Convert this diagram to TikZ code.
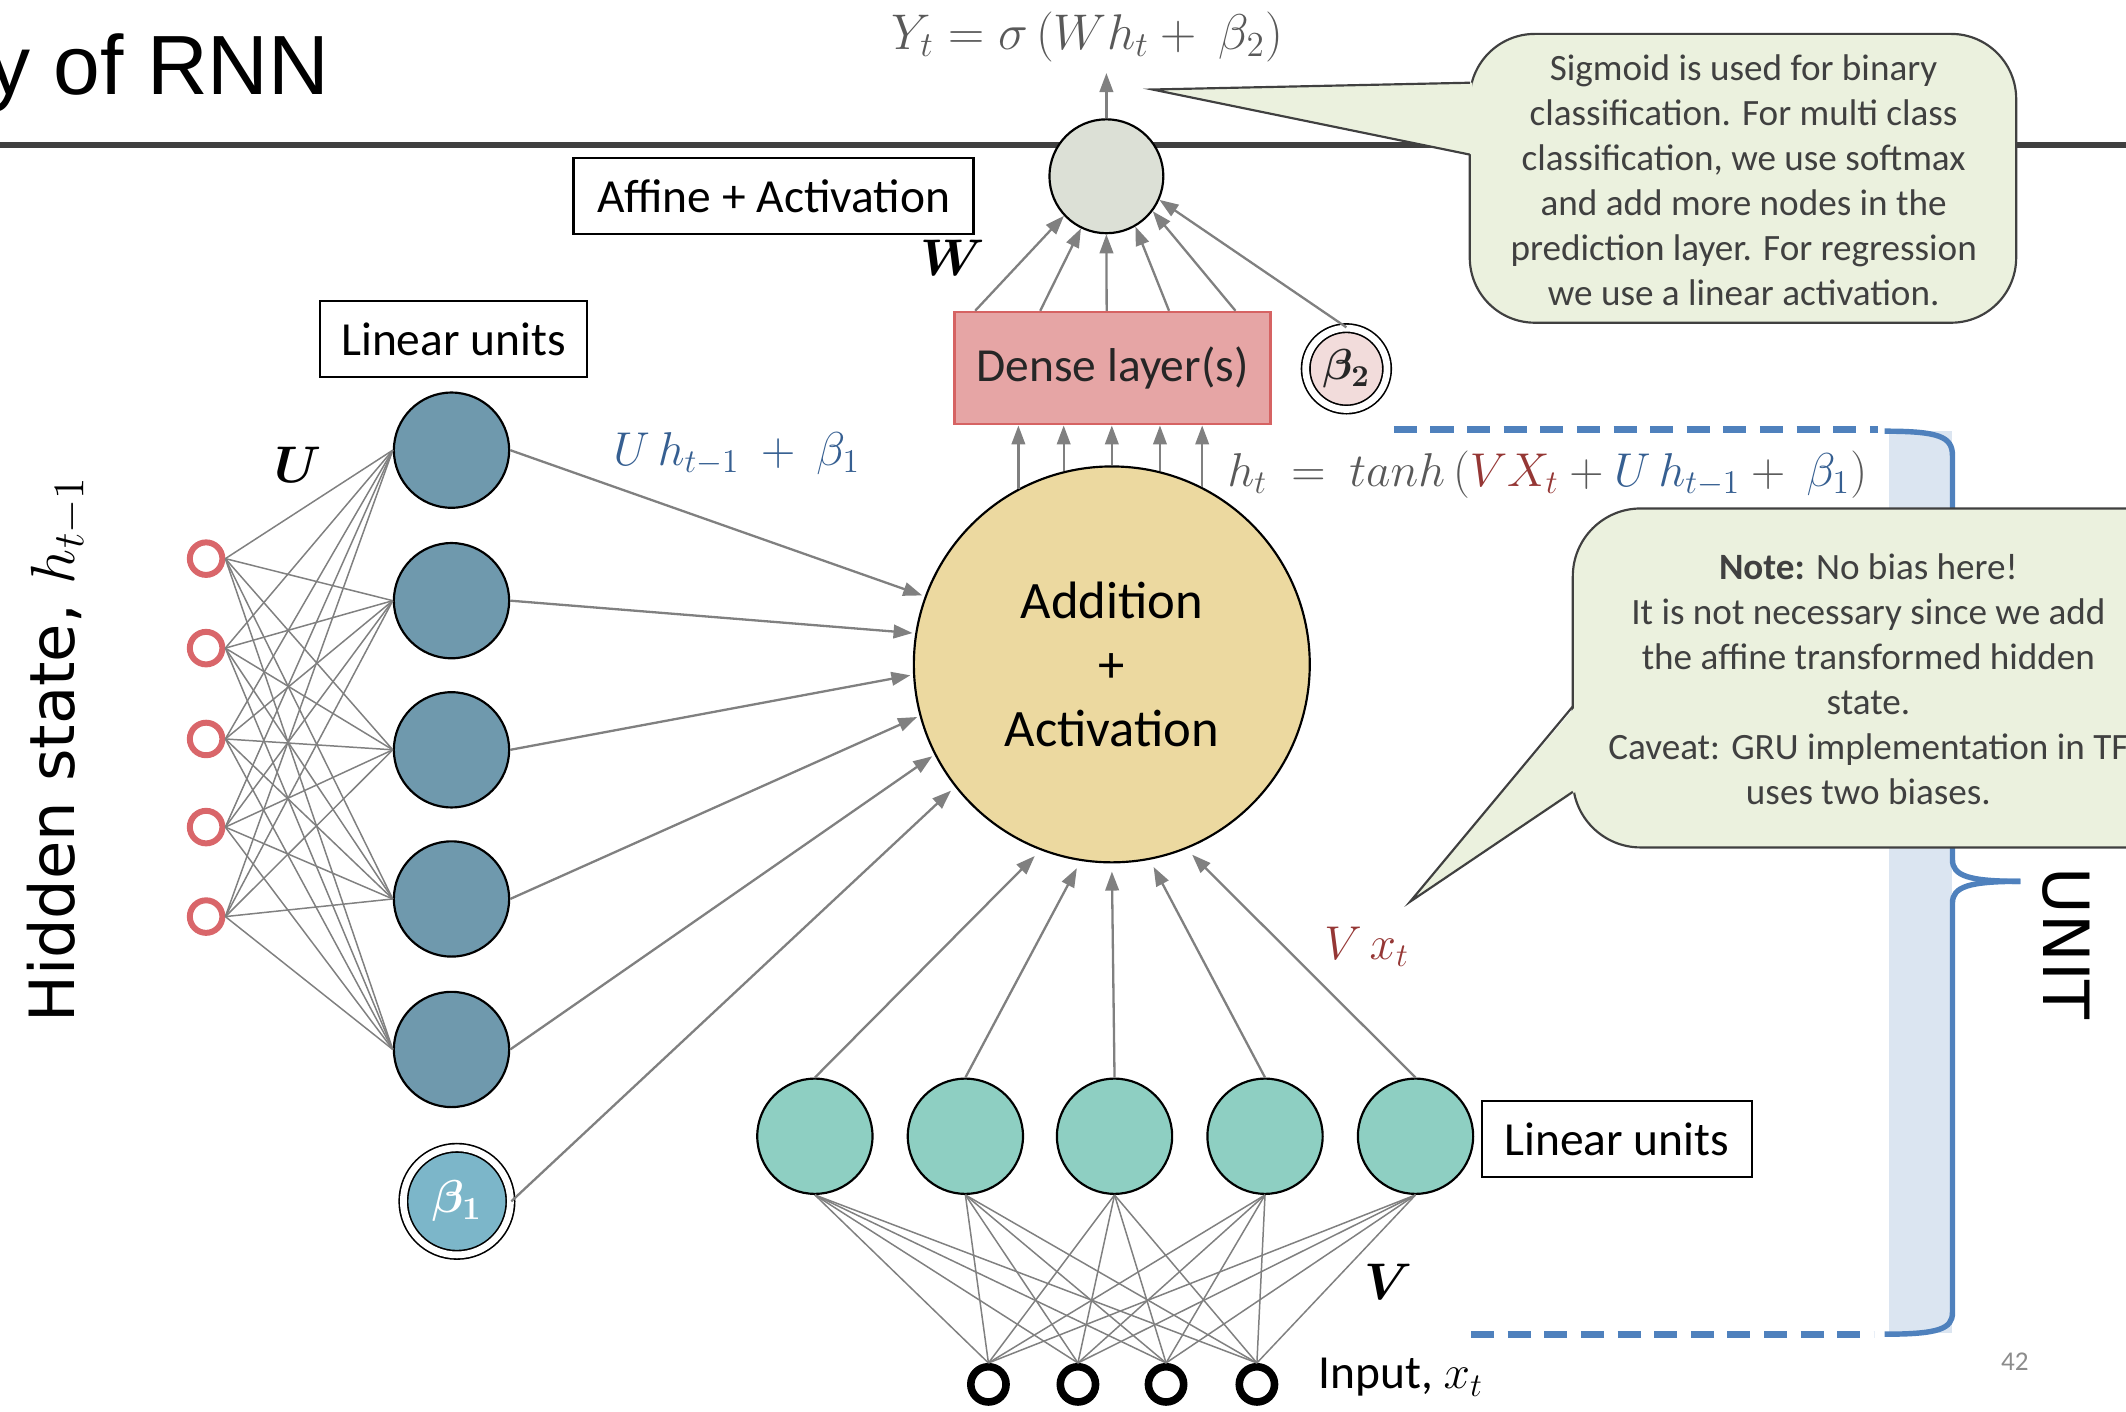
\RequirePackage{fix-cm}
\documentclass[tikz,border=0pt]{standalone}
\usepackage{tikz}
\usepackage{amsmath}
\usepackage{fontspec}
\setmainfont{Carlito}
\newfontfamily\titlefont{Liberation Sans}
\newfontfamily\sidefont{DejaVu Sans}
\usetikzlibrary{arrows.meta}
\definecolor{rulegray}{RGB}{64,64,64}
\definecolor{linegray}{RGB}{128,128,128}
\definecolor{textgray}{RGB}{89,89,89}
\definecolor{notetext}{RGB}{64,64,64}
\definecolor{notegreen}{RGB}{235,241,222}
\definecolor{hidred}{RGB}{217,102,106}
\definecolor{recblue}{RGB}{111,153,173}
\definecolor{inteal}{RGB}{142,207,194}
\definecolor{addgold}{RGB}{236,217,160}
\definecolor{outgray}{RGB}{220,224,214}
\definecolor{densered}{RGB}{230,165,165}
\definecolor{denseedge}{RGB}{214,99,99}
\definecolor{biaspink}{RGB}{242,220,219}
\definecolor{biasblue}{RGB}{124,182,201}
\definecolor{stripblue}{RGB}{219,229,241}
\definecolor{braceblue}{RGB}{79,129,189}
\definecolor{termblue}{RGB}{54,95,145}
\definecolor{termred}{RGB}{149,55,53}

\begin{document}
\begin{tikzpicture}[x=0.5pt,y=0.5pt,yscale=-1,xscale=1,
  wire/.style={draw=linegray,line width=0.55pt},
  flow/.style={draw=linegray,line width=0.85pt,-{Triangle[length=7pt,width=5pt]}},
  hidunit/.style={circle,draw=hidred,line width=2.2pt,fill=white,minimum size=12pt,inner sep=0pt},
  inunit/.style={circle,draw=black,line width=2.8pt,fill=white,minimum size=13pt,inner sep=0pt},
  recunit/.style={circle,draw=black,line width=0.8pt,fill=recblue,minimum size=42.5pt,inner sep=0pt},
  linunit/.style={circle,draw=black,line width=0.8pt,fill=inteal,minimum size=42.5pt,inner sep=0pt},
  labelbox/.style={draw=black,line width=0.8pt,fill=white,minimum height=28pt,inner sep=0pt,font=\fontsize{17.5}{21}\selectfont},
  calloutbox/.style={fill=notegreen,draw=notetext,line width=0.8pt},
  callouttext/.style={align=center,text=notetext,inner sep=0pt,font=\fontsize{13.7}{16.6}\selectfont},
  biasunit/.style={circle,draw=black,line width=0.6pt,double,double distance=2.5pt,inner sep=0pt},
  weight/.style={inner sep=0pt,font=\fontsize{19}{22}\selectfont},
  dashblue/.style={draw=braceblue,line width=2.5pt,dash pattern=on 8.5pt off 5pt},
  ]
\useasboundingbox (0,0) rectangle (1568,1041);

% Title
\node[anchor=base west,inner sep=0pt,font=\titlefont\fontsize{31}{36}\selectfont] (title) at (-9,70) {y of RNN};
%Straight Lines
\draw[rulegray,line width=2pt] (0,107) -- (1568,107);

%Shape: Rectangle
\fill[stripblue] (1393,318) rectangle (1440,983);
%Curve Lines
\draw[braceblue,line width=2pt] (1390,318) .. controls (1430,318) and (1440,322) .. (1440,336) -- (1440,634) .. controls (1440,646) and (1452,650) .. (1490,650);
\draw[braceblue,line width=2pt] (1490,650) .. controls (1452,650) and (1440,654) .. (1440,666) -- (1440,968) .. controls (1440,980) and (1430,984) .. (1390,984);
\draw[dashblue] (1028,317) -- (1385,317);
\draw[dashblue] (1085,984) -- (1382,984);
% Text Node
\node[rotate=-90,inner sep=0pt,font=\sidefont\fontsize{23.5}{28}\selectfont] (unit) at (1524,696) {UNIT};

%Shape: Circle (hidden state)
\node[hidunit] (h1) at (152,412) {};
\node[hidunit] (h2) at (152,478) {};
\node[hidunit] (h3) at (152,545) {};
\node[hidunit] (h4) at (152,610) {};
\node[hidunit] (h5) at (152,676) {};
%Shape: Circle (linear units, U)
\node[recunit] (u1) at (333,332) {};
\node[recunit] (u2) at (333,443) {};
\node[recunit] (u3) at (333,553) {};
\node[recunit] (u4) at (333,663) {};
\node[recunit] (u5) at (333,774) {};
\node[biasunit,fill=biasblue,minimum size=39.5pt,text=white,font=\fontsize{17}{20}\selectfont] (b1) at (337,886) {$\boldsymbol{\beta_1}$};
\foreach \i in {1,...,5}{\foreach \j in {1,...,5}{\draw[wire] (h\i.east) -- (u\j.west);}}

%Shape: Circle (addition)
\node[circle,draw=black,line width=0.8pt,fill=addgold,minimum size=146pt,inner sep=0pt,align=center,font=\fontsize{19.4}{23.7}\selectfont] (add) at (820,490) {Addition\\+\\Activation};

%Shape: Circle (linear units, V)
\node[linunit] (v1) at (601,838) {};
\node[linunit] (v2) at (712,838) {};
\node[linunit] (v3) at (822,838) {};
\node[linunit] (v4) at (933,838) {};
\node[linunit] (v5) at (1044,838) {};
%Shape: Circle (input)
\node[inunit] (x1) at (729,1021) {};
\node[inunit] (x2) at (795,1021) {};
\node[inunit] (x3) at (860,1021) {};
\node[inunit] (x4) at (927,1021) {};
\foreach \i in {1,...,5}{\foreach \j in {1,...,4}{\draw[wire] (v\i.south) -- (x\j.north);}}

%Straight Lines into addition
\draw[flow,shorten >=1pt] (u1.east) -- (add.160);
\draw[flow,shorten >=1pt] (u2.east) -- (add.171);
\draw[flow,shorten >=1pt] (u3.east) -- (add.183);
\draw[flow,shorten >=1pt] (u4.east) -- (add.195);
\draw[flow,shorten >=1pt] (u5.east) -- (add.207);
\draw[flow,shorten >=2pt] (b1.east) -- (add.218);
\draw[flow,shorten >=3pt] (v1.north) -- (add.249);
\draw[flow,shorten >=3pt] (v2.north) -- (add.261);
\draw[flow,shorten >=3pt] (v3.north) -- (add.270);
\draw[flow,shorten >=3pt] (v4.north) -- (add.281);
\draw[flow,shorten >=3pt] (v5.north) -- (add.292);

%Shape: Rectangle (dense)
\node[draw=denseedge,line width=0.8pt,fill=densered,minimum width=116.5pt,minimum height=41.5pt,inner sep=0pt,text={rgb,255:red,38;green,38;blue,38},font=\fontsize{17.5}{21}\selectfont] (dense) at (820.5,271.5) {Dense layer(s)};
\foreach \a in {118,104,90,76,63}{\draw[flow] (add.\a) -- (add.\a |- dense.south);}

%Shape: Circle (output)
\node[circle,draw=black,line width=0.8pt,fill=outgray,minimum size=42pt,inner sep=0pt] (o) at (816,130) {};
\node[biasunit,fill=biaspink,minimum size=30pt,text={rgb,255:red,38;green,38;blue,38},font=\fontsize{16}{19}\selectfont] (b2) at (993,272) {$\boldsymbol{\beta_2}$};
\draw[flow] ([xshift=8pt]dense.north west) -- (o.223);
\draw[flow] ([xshift=32pt]dense.north west) -- (o.244);
\draw[flow] ([xshift=56.5pt]dense.north west) -- (o.270);
\draw[flow] ([xshift=79.5pt]dense.north west) -- (o.300);
\draw[flow] ([xshift=104pt]dense.north west) -- (o.323);
\draw[flow] (b2.north) -- (o.336);

% Text Node
\node[inner sep=0pt,text=textgray,font=\fontsize{18.5}{22}\selectfont] (yt) at (802,27) {$Y_t = \sigma\,(Wh_t +\ \beta_2)$};
\draw[flow,shorten >=4pt] (o.north) -- (o.north |- yt.south);

% Text Node
\node[labelbox,minimum width=147.5pt] (affine) at (570.5,144.5) {Affine + Activation};
\node[labelbox,minimum width=98.5pt] (lintop) at (334.5,250) {Linear units};
\node[labelbox,minimum width=99.5pt] (linbot) at (1192.5,840) {Linear units};
\node[weight] (wlab) at (703,190) {$\boldsymbol{W}$};
\node[weight] (ulab) at (220,343) {$\boldsymbol{U}$};
\node[weight] (vlab) at (1024,945) {$\boldsymbol{V}$};
\node[anchor=west,inner sep=0pt,text=termblue,font=\fontsize{17.5}{21}\selectfont] (uterm) at (452,335) {$U\,h_{t-1}\ +\ \beta_1$};
\node[inner sep=0pt,text=termred,font=\fontsize{17.5}{21}\selectfont] (vterm) at (1008,698) {$V\,x_t$};
\node[anchor=west,inner sep=0pt,text=textgray,font=\fontsize{17.5}{21}\selectfont] (hterm) at (905,350) {$h_t\ =\ tanh\,(\textcolor{termred}{VX_t} + \textcolor{termblue}{U\,h_{t-1}} +\ \textcolor{termblue}{\beta_1})$};
\node[anchor=west,inner sep=0pt,font=\fontsize{17.5}{21}\selectfont] (inlab) at (972,1016) {Input, $x_t$};
\node[inner sep=0pt,text={rgb,255:red,140;green,140;blue,140},font=\fontsize{10}{12}\selectfont] (page) at (1486,1004) {42};
\node[rotate=90,inner sep=0pt,font=\sidefont\fontsize{23}{28}\selectfont] (hidlab) at (42,553) {Hidden state, $h_{t-1}$};

%Shape: Callout (top)
\filldraw[calloutbox,rounded corners=24pt] (1084,25) rectangle (1487,238);
\fill[notegreen] (1086,61) -- (850,66) -- (1086,114) -- cycle;
\draw[notetext,line width=0.8pt] (1084,61) -- (850,66) -- (1084,114);
\node[callouttext] (sigma) at (1286,133) {Sigmoid is used for binary\\classification. For multi class\\classification, we use softmax\\and add more nodes in the\\prediction layer. For regression\\we use a linear activation.};

%Shape: Callout (bottom)
\filldraw[calloutbox,rounded corners=25pt] (1160,375) rectangle (1640,625);
\fill[notegreen] (1162,521) -- (1040,665) -- (1162,584) -- cycle;
\draw[notetext,line width=0.8pt] (1160,521) -- (1040,665) -- (1160,584);
\node[callouttext] (nobias) at (1378,501) {\textbf{Note:} No bias here!\\It is not necessary since we add\\the affine transformed hidden\\state.\\Caveat: GRU implementation in TF\\uses two biases.};

\end{tikzpicture}
\end{document}
